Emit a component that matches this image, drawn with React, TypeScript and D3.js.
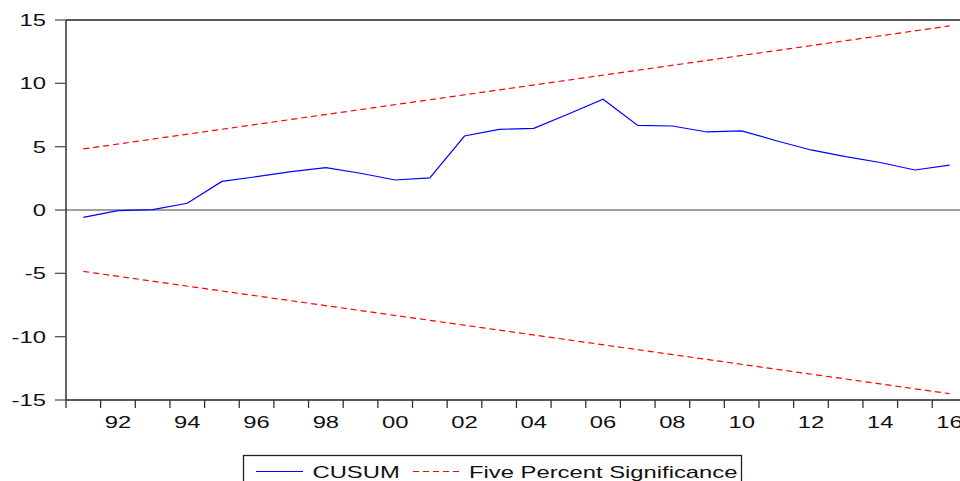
import * as d3 from 'd3';

const years = d3.range(1991, 2017);
const cusum = [
  -0.58, -0.05, 0.03, 0.53, 2.26, 2.63, 3.03, 3.34, 2.9, 2.37, 2.53, 5.84, 6.37,
  6.45, 7.58, 8.74, 6.68, 6.63, 6.16, 6.24, 5.47, 4.74, 4.21, 3.75, 3.16, 3.55,
];
const bandYears = [1991, 2016];
const upper = [4.82, 14.53];
const lower = [-4.85, -14.5];
const yTicks = [15, 10, 5, 0, -5, -10, -15];
const xLabels = [1992, 1994, 1996, 1998, 2000, 2002, 2004, 2006, 2008, 2010, 2012, 2014, 2016];

const W = 960;
const H = 481;
const LEFT = 66;
const TOP = 20;
const BOTTOM = 400;
const STEP = 34.65;
const FONT = "'Liberation Sans', Arial, sans-serif";
const SX = 1.4;

export default function App() {
  const x = d3.scaleLinear().domain([1990.5, 2016.5]).range([LEFT, LEFT + 26 * STEP]);
  const y = d3.scaleLinear().domain([-15, 15]).range([BOTTOM, TOP]);

  const line = d3
    .line<[number, number]>()
    .x((d) => x(d[0]))
    .y((d) => y(d[1]));

  const cusumPath = line(years.map((yr, i) => [yr, cusum[i]]));
  const upperPath = line(bandYears.map((yr, i) => [yr, upper[i]]));
  const lowerPath = line(bandYears.map((yr, i) => [yr, lower[i]]));
  const right = x(2016.5);
  const bounds = d3.range(1990.5, 2017.5, 1);

  return (
    <svg
      width={W}
      height={H}
      style={{ position: 'absolute', left: 0, top: 0, background: '#fff' }}
      fontFamily={FONT}
    >
      <rect x={0} y={0} width={W} height={H} fill="#fff" />
      {/* zero line */}
      <line x1={LEFT} x2={right} y1={y(0)} y2={y(0)} stroke="#808080" strokeWidth={1.3} />

      {/* frame */}
      <line x1={LEFT} x2={right} y1={TOP} y2={TOP} stroke="#222" strokeWidth={1.3} />
      <line x1={right} x2={right} y1={TOP} y2={BOTTOM} stroke="#222" strokeWidth={1.3} />
      <line x1={LEFT} x2={right} y1={BOTTOM} y2={BOTTOM} stroke="#222" strokeWidth={1.3} />
      <line x1={LEFT} x2={LEFT} y1={TOP} y2={BOTTOM} stroke="#111" strokeWidth={1.3} />

      {/* y axis */}
      {yTicks.map((t) => (
        <g key={t}>
          <line x1={LEFT - 11} x2={LEFT} y1={y(t)} y2={y(t)} stroke="#555" strokeWidth={1.3} />
          <text
            transform={`translate(46,${y(t) + 6}) scale(${SX},1)`}
            textAnchor="end"
            fontSize={17}
            fill="#111"
          >
            {t}
          </text>
        </g>
      ))}

      {/* x axis */}
      {bounds.map((b) => (
        <line key={b} x1={x(b)} x2={x(b)} y1={BOTTOM} y2={BOTTOM + 8} stroke="#333" strokeWidth={1.3} />
      ))}
      {xLabels.map((yr) => (
        <text
          key={yr}
          transform={`translate(${x(yr)},428) scale(${SX},1)`}
          textAnchor="middle"
          fontSize={17}
          fill="#111"
        >
          {String(yr % 100).padStart(2, '0')}
        </text>
      ))}

      {/* series */}
      <path d={upperPath || ''} fill="none" stroke="#ff0000" strokeWidth={1.2} strokeDasharray="6,4" />
      <path d={lowerPath || ''} fill="none" stroke="#ff0000" strokeWidth={1.2} strokeDasharray="6,4" />
      <path d={cusumPath || ''} fill="none" stroke="#0000ff" strokeWidth={1.2} />

      {/* legend */}
      <rect x={243.5} y={455.5} width={498} height={40} fill="#fff" stroke="#222" strokeWidth={1.3} />
      <line x1={256} x2={303} y1={471.5} y2={471.5} stroke="#0000ff" strokeWidth={1.2} />
      <text transform={`translate(312.5,477.5) scale(${SX},1)`} fontSize={17} fill="#111">
        CUSUM
      </text>
      <line x1={413} x2={460} y1={471.5} y2={471.5} stroke="#ff0000" strokeWidth={1.2} strokeDasharray="6,4" />
      <text transform={`translate(469,477.5) scale(${SX},1)`} fontSize={17} fill="#111">
        Five Percent Significance
      </text>
    </svg>
  );
}
